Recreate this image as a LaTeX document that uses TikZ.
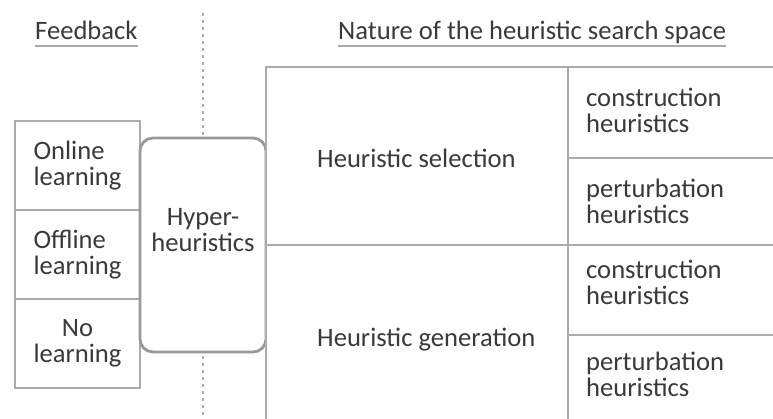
\documentclass[tikz,border=0pt]{standalone}
\usepackage{fontspec}
\setmainfont{Carlito}
\definecolor{ink}{HTML}{3A3A3A}
\definecolor{rule}{HTML}{ABABAB}
\definecolor{hhline}{HTML}{999999}
\begin{document}
\begin{tikzpicture}[x=1pt,y=-1pt,
  every node/.style={font=\fontsize{26.6}{26}\selectfont, text=ink, inner sep=0pt},
  cell/.style={draw=rule, line width=1.6pt, fill=white, rectangle, minimum width=#1},
  hdr/.style={anchor=base west},
  ul/.style={draw=rule, line width=2pt},
  sep/.style={draw=rule, line width=1.2pt, dash pattern=on 3pt off 4pt},
  hyperbox/.style={draw=hhline, line width=2.8pt, fill=white, rounded corners=13pt,
                   minimum width=126pt, minimum height=214pt},
  lbl/.style={anchor=west, align=left}]
\useasboundingbox (0,0) rectangle (773,419);
\clip (0,0) rectangle (773,419);

% column headings
\node[hdr] (fb) at (35,40) {Feedback};
\node[hdr] (ns) at (338,40) {Nature of the heuristic search space};
\draw[ul] ([yshift=-6pt]fb.base west) -- ([yshift=-6pt]fb.base east);
\draw[ul] ([yshift=-6pt]ns.base west) -- ([yshift=-6pt]ns.base east);

% dotted separator
\coordinate (st) at (203,13);
\coordinate (sb) at (203,419);
\draw[sep] (st) -- (sb);

% feedback column
\node[cell=125pt, minimum height=89pt, align=left] (on) at (77.5,165.5) {Online\\learning};
\node[cell=125pt, minimum height=89pt, align=left] (off) at (77.5,254.5) {Offline\\learning};
\node[cell=125pt, minimum height=89pt, align=center] (no) at (77.5,343.5) {No\\learning};

% hyper-heuristics
\node[hyperbox] (hh) at (203,245) {};
\node[align=center] (hht) at (203,230) {Hyper-\\heuristics};

% search space table
\node[cell=302pt, minimum height=178pt] (sel) at (417,156) {};
\node[cell=302pt, minimum height=180pt] (gen) at (417,335) {};
\node[cell=222pt, minimum height=91pt] (c1) at (679,112.5) {};
\node[cell=222pt, minimum height=87pt] (p1) at (679,201.5) {};
\node[cell=222pt, minimum height=90pt] (c2) at (679,290) {};
\node[cell=222pt, minimum height=90pt] (p2) at (679,380) {};

\node[lbl] (selt) at (317,158) {Heuristic selection};
\node[lbl] (gent) at (317,340) {Heuristic generation};
\node[lbl] (c1t) at (586,110) {construction\\heuristics};
\node[lbl] (p1t) at (586,201.5) {perturbation\\heuristics};
\node[lbl] (c2t) at (586,282.5) {construction\\heuristics};
\node[lbl] (p2t) at (586,374.5) {perturbation\\heuristics};
\end{tikzpicture}
\end{document}
